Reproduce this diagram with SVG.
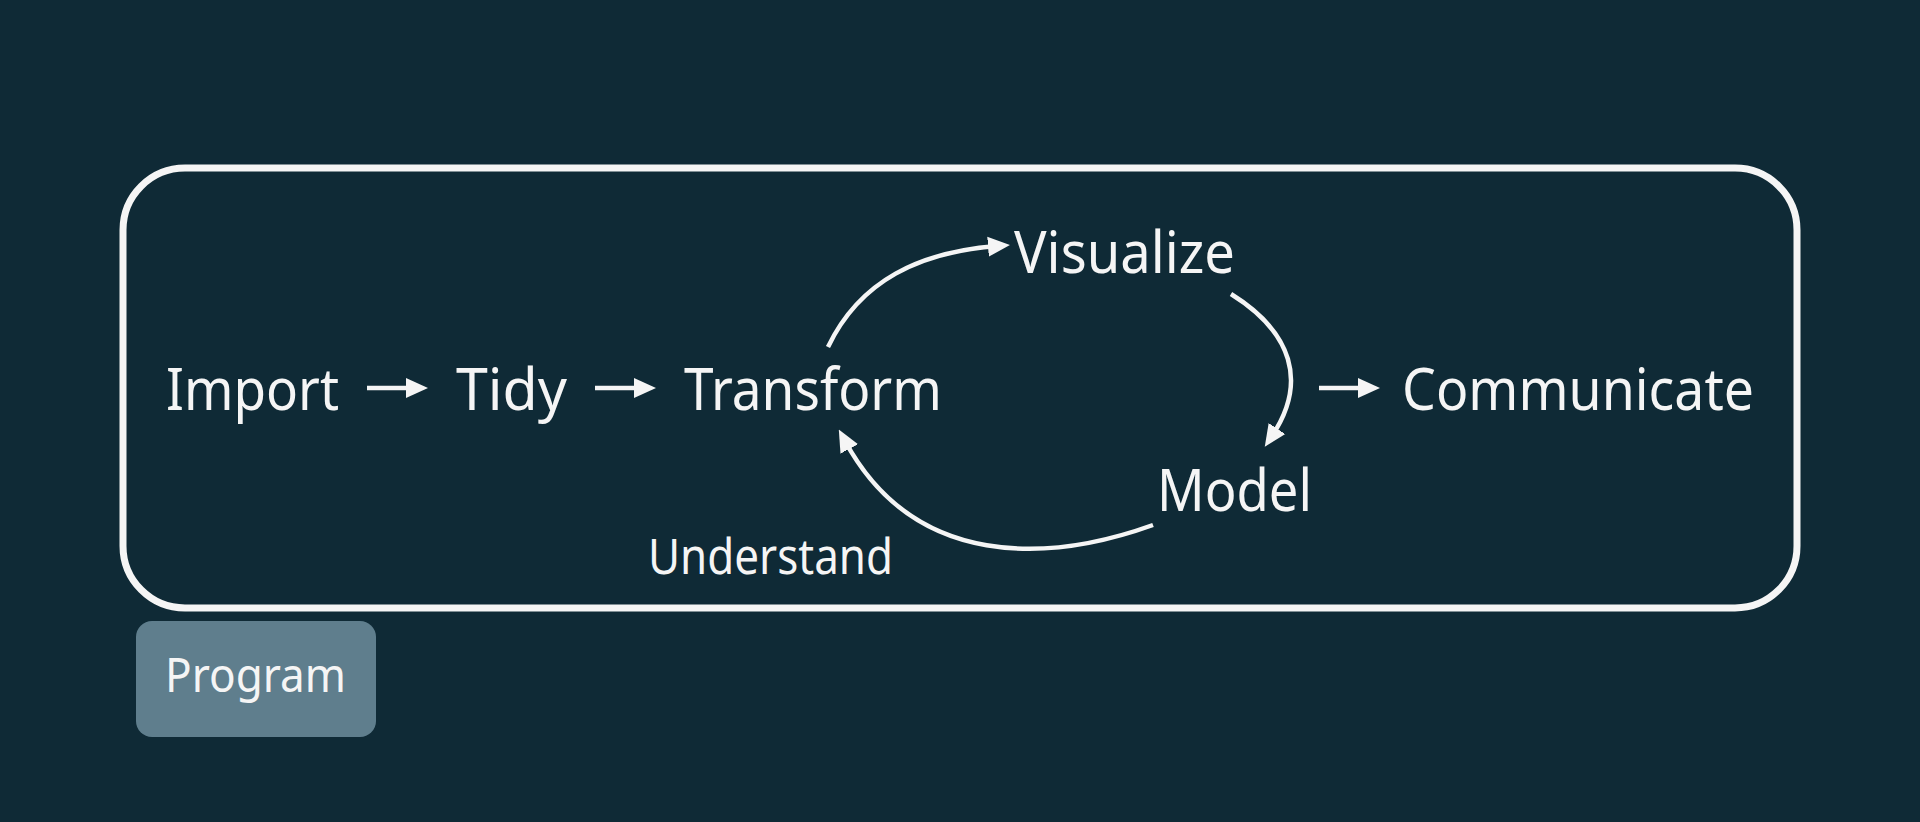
<svg xmlns="http://www.w3.org/2000/svg" width="1920" height="822" viewBox="0 0 1920 822">
  <style>
    .lbl { font-family: "Noto Sans", "Open Sans", sans-serif; fill: #f5f5f5; }
    .main { font-size: 59px; }
    .conn { fill: none; stroke: #f5f5f5; stroke-width: 4.5; }
  </style>
  <defs>
    <marker id="ah" viewBox="0 0 22 22" refX="9" refY="11" markerWidth="22" markerHeight="22" markerUnits="userSpaceOnUse" orient="auto">
      <path d="M0,1 L22,11 L0,21 z" fill="#f5f5f5"/>
    </marker>
  </defs>
  <rect x="0" y="0" width="1920" height="822" fill="#0f2a36"/>

  <g id="frame">
    <rect x="123" y="168" width="1674" height="440" rx="62" ry="62" fill="none" stroke="#f5f5f5" stroke-width="7"/>
  </g>

  <g id="program">
    <rect x="136" y="621" width="240" height="116" rx="16" ry="16" fill="#5f7e8d"/>
    <text class="lbl" x="165" y="692" font-size="48" textLength="181" lengthAdjust="spacingAndGlyphs">Program</text>
  </g>

  <g id="import"><text class="lbl main" x="166" y="410" textLength="173" lengthAdjust="spacingAndGlyphs">Import</text></g>
  <g id="tidy"><text class="lbl main" x="456" y="410" textLength="111" lengthAdjust="spacingAndGlyphs">Tidy</text></g>
  <g id="transform"><text class="lbl main" x="684" y="410" textLength="258" lengthAdjust="spacingAndGlyphs">Transform</text></g>
  <g id="visualize"><text class="lbl main" x="1014" y="273" textLength="221" lengthAdjust="spacingAndGlyphs">Visualize</text></g>
  <g id="model"><text class="lbl main" x="1157" y="511" textLength="155" lengthAdjust="spacingAndGlyphs">Model</text></g>
  <g id="communicate"><text class="lbl main" x="1402" y="410" textLength="352" lengthAdjust="spacingAndGlyphs">Communicate</text></g>
  <g id="understand"><text class="lbl" x="648" y="574" font-size="50" textLength="245" lengthAdjust="spacingAndGlyphs">Understand</text></g>

  <g id="connectors">
    <path class="conn" d="M367,388 L415,388" marker-end="url(#ah)"/>
    <path class="conn" d="M595,388 L643,388" marker-end="url(#ah)"/>
    <path class="conn" d="M1319,388 L1367,388" marker-end="url(#ah)"/>
    <path class="conn" d="M828,347 C860,280 920,252 997,246" marker-end="url(#ah)"/>
    <path class="conn" d="M1231,294 C1292,332 1308,382 1272,436" marker-end="url(#ah)"/>
    <path class="conn" d="M1153,525 C1050,562 915,570 845,441" marker-end="url(#ah)"/>
  </g>
</svg>
